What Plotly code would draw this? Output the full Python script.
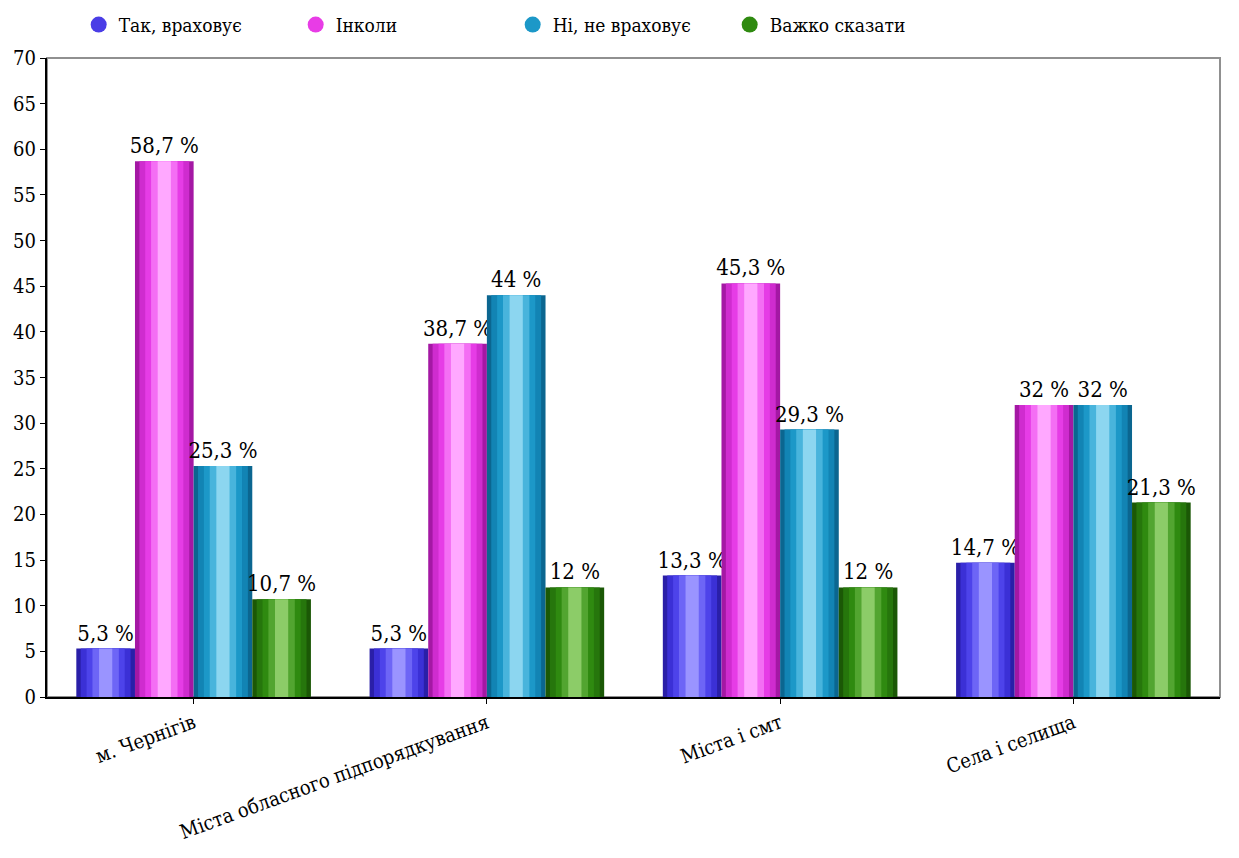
import plotly.graph_objects as go

categories = ["м. Чернігів", "Міста обласного підпорядкування", "Міста і смт", "Села і селища"]
series_names = ["Так, враховує", "Інколи", "Ні, не враховує", "Важко сказати"]
tak = [5.3, 5.3, 13.3, 14.7]
inkoly = [58.7, 38.7, 45.3, 32]
ni = [25.3, 44, 29.3, 32]
vazhko = [10.7, 12, 12, 21.3]
y_ticks = list(range(0, 75, 5))

# shading layers per series, from outer edge to central highlight
shades = [
    ["#2a1fa8", "#3b30d6", "#4d43ea", "#6d65f6", "#9a94ff"],
    ["#a418a4", "#cf2ccf", "#e63ce6", "#f46ef4", "#ffa8ff"],
    ["#0b6690", "#1284b4", "#1c98c8", "#48b4dc", "#8cd6f0"],
    ["#1b5806", "#26760c", "#2f8a10", "#52a530", "#8ccc68"],
]
layer_widths = [None, 0.17, 0.13, 0.09, 0.045]
legend_colors = ["#4a3de6", "#e83ce6", "#1c98c8", "#2f8a10"]

FONT = "DejaVu Serif Condensed, DejaVu Serif, serif"

def fmt(v):
    s = f"{v:g}".replace(".", ",")
    return s + " %"

fig = go.Figure()
for name, vals, sh in zip(series_names, [tak, inkoly, ni, vazhko], shades):
    for i, (col, w) in enumerate(zip(sh, layer_widths)):
        kw = {}
        if w is not None:
            kw["width"] = w
        if i == 0:
            kw.update(text=[fmt(v) for v in vals], textposition="outside",
                      constraintext="none",
                      textfont=dict(family=FONT, size=22, color="#000"))
        fig.add_trace(go.Bar(
            name=name, x=categories, y=vals, offsetgroup=name, showlegend=False,
            marker=dict(color=col, line=dict(width=0)), cliponaxis=False,
            hoverinfo="skip", **kw,
        ))

for name, c in zip(series_names, legend_colors):
    fig.add_trace(go.Scatter(
        name=name, x=[None], y=[None], mode="markers",
        marker=dict(symbol="circle", size=16, color=c),
    ))

fig.add_shape(type="rect", xref="paper", yref="paper", x0=0, x1=1, y0=0, y1=1,
              line=dict(color="#909090", width=2), layer="below")

fig.update_layout(
    width=1239, height=858,
    paper_bgcolor="white", plot_bgcolor="white",
    barmode="group", bargap=0.2, bargroupgap=0.0,
    margin=dict(l=39, r=27, t=50, b=169, autoexpand=False),
    font=dict(family=FONT, size=20, color="#000"),
    legend=dict(orientation="h", x=0.027, y=1.052, xanchor="left", yanchor="middle",
                bgcolor="rgba(0,0,0,0)", font=dict(family=FONT, size=19),
                traceorder="normal", entrywidth=172, entrywidthmode="pixels"),
    showlegend=True,
    xaxis=dict(showline=True, linecolor="#000", linewidth=2, mirror=False,
               ticks="outside", tickcolor="#000", tickangle=-20,
               tickfont=dict(family=FONT, size=20), showgrid=False),
    yaxis=dict(range=[0, 70], tickvals=y_ticks, showline=True, linecolor="#000", linewidth=2,
               ticks="outside", ticklen=5, tickcolor="#000", showgrid=False,
               tickfont=dict(family=FONT, size=20), zeroline=False),
)
fig.write_html("out.html")
